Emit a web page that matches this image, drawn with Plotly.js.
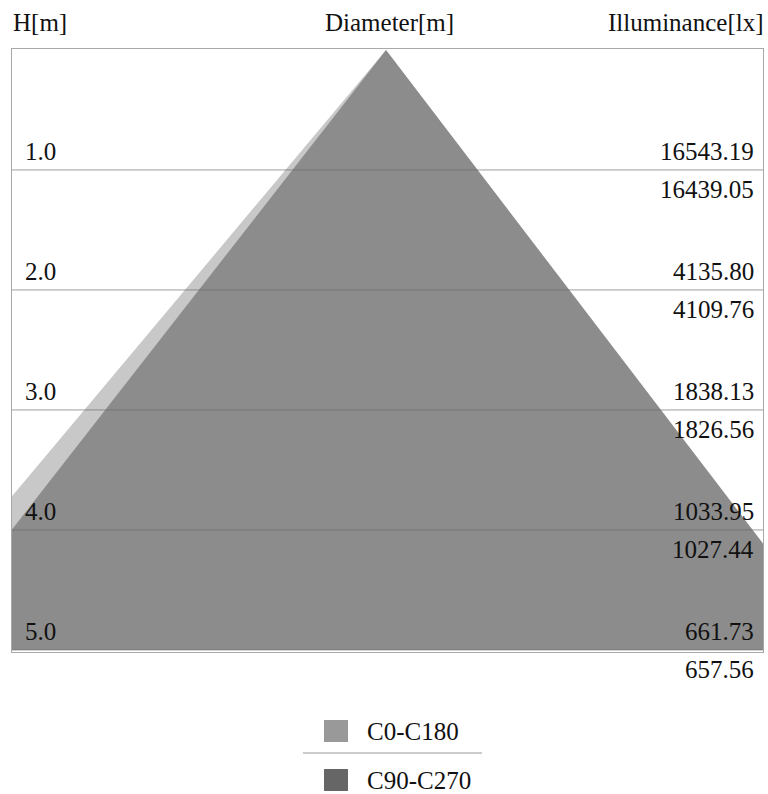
<!DOCTYPE html>
<html>
<head>
<meta charset="utf-8">
<script src="https://cdn.plot.ly/plotly-3.0.1.min.js"></script>
<style>
html,body{margin:0;padding:0;background:#fff;}
#chart{width:768px;height:794px;}
</style>
</head>
<body>
<div id="chart"></div>
<script>
// ---- data ----
const heights = [1, 2, 3, 4, 5];
const heightLabels = ["1.0", "2.0", "3.0", "4.0", "5.0"];
const c0c180Lux = ["16543.19", "4135.80", "1838.13", "1033.95", "661.73"];
const c90c270Lux = ["16439.05", "4109.76", "1826.56", "1027.44", "657.56"];
// cone edge positions (m) at the deepest height (5 m): [left, right]
const c0c180Edges = [-4.19, 3.80];
const c90c270Edges = [-3.90, 3.82];
const seriesNames = ["C0-C180", "C90-C270"];

const maxH = heights[heights.length - 1];
function cone(edges, color, name) {
  return {
    type: 'scatter', mode: 'lines', name: name,
    x: [0, edges[0], edges[1], 0],
    y: [0, maxH, maxH, 0],
    fill: 'toself', fillcolor: color,
    line: {width: 0, color: color},
    hoverinfo: 'skip', showlegend: false
  };
}

const traces = [
  cone(c0c180Edges, '#c8c8c8', seriesNames[0]),
  cone(c90c270Edges, '#8c8c8c', seriesNames[1])
];

const font = {family: '"Liberation Serif", "Times New Roman", serif', size: 25, color: '#111'};
const annotations = [];
const shapes = [];

const W = 751, H = 603, L = 12, T = 49;
function px(x) { return (x - L) / W; }
function py(y) { return 1 - (y - T) / H; }

heights.forEach((h, i) => {
  shapes.push({type: 'line', xref: 'paper', yref: 'y', x0: 0, x1: 1, y0: h, y1: h,
    line: {color: 'rgba(105,105,105,0.65)', width: 1}, layer: 'above'});
  annotations.push({xref: 'paper', yref: 'y', x: px(23), y: h, xanchor: 'left', yanchor: 'middle',
    yshift: 18, text: heightLabels[i], showarrow: false, font: font});
  annotations.push({xref: 'paper', yref: 'y', x: px(756), y: h, xanchor: 'right', yanchor: 'middle',
    yshift: 18, text: c0c180Lux[i], showarrow: false, font: font});
  annotations.push({xref: 'paper', yref: 'y', x: px(756), y: h, xanchor: 'right', yanchor: 'middle',
    yshift: -20, text: c90c270Lux[i], showarrow: false, font: font});
});

// headers
annotations.push({xref: 'paper', yref: 'paper', x: px(11), y: 1, xanchor: 'left', yanchor: 'middle',
  yshift: 27, text: 'H[m]', showarrow: false, font: font});
annotations.push({xref: 'paper', yref: 'paper', x: px(389), y: 1, xanchor: 'center', yanchor: 'middle',
  yshift: 27, text: 'Diameter[m]', showarrow: false, font: font});
annotations.push({xref: 'paper', yref: 'paper', x: px(766), y: 1, xanchor: 'right', yanchor: 'middle',
  yshift: 27, text: 'Illuminance[lx]', showarrow: false, font: font});

// custom legend
const legendColors = ['#999999', '#666666'];
const legendRows = [731, 780];
legendRows.forEach((yc, i) => {
  shapes.push({type: 'rect', xref: 'paper', yref: 'paper',
    x0: px(324), x1: px(348), y0: py(yc - 11), y1: py(yc + 11),
    fillcolor: legendColors[i], line: {width: 0}});
  annotations.push({xref: 'paper', yref: 'paper', x: px(365), y: py(yc), xanchor: 'left', yanchor: 'middle',
    text: seriesNames[i], showarrow: false, font: font});
});
shapes.push({type: 'line', xref: 'paper', yref: 'paper', x0: px(303), x1: px(482), y0: py(753), y1: py(753),
  line: {color: '#999', width: 1}});

const layout = {
  width: 768, height: 794,
  margin: {l: 12, r: 5, t: 49, b: 142, pad: 0},
  paper_bgcolor: '#fff', plot_bgcolor: '#fff',
  showlegend: false,
  xaxis: {range: [-3.117, 3.142], showgrid: false, zeroline: false, showticklabels: false, ticks: '',
    showline: true, mirror: true, linecolor: '#a8a8a8', linewidth: 1, layer: 'above traces', fixedrange: true},
  yaxis: {range: [5.017, -0.008], showgrid: false, zeroline: false, showticklabels: false, ticks: '',
    showline: true, mirror: true, linecolor: '#a8a8a8', linewidth: 1, layer: 'above traces', fixedrange: true},
  shapes: shapes,
  annotations: annotations
};

Plotly.newPlot('chart', traces, layout, {displayModeBar: false, staticPlot: true});
</script>
</body>
</html>
